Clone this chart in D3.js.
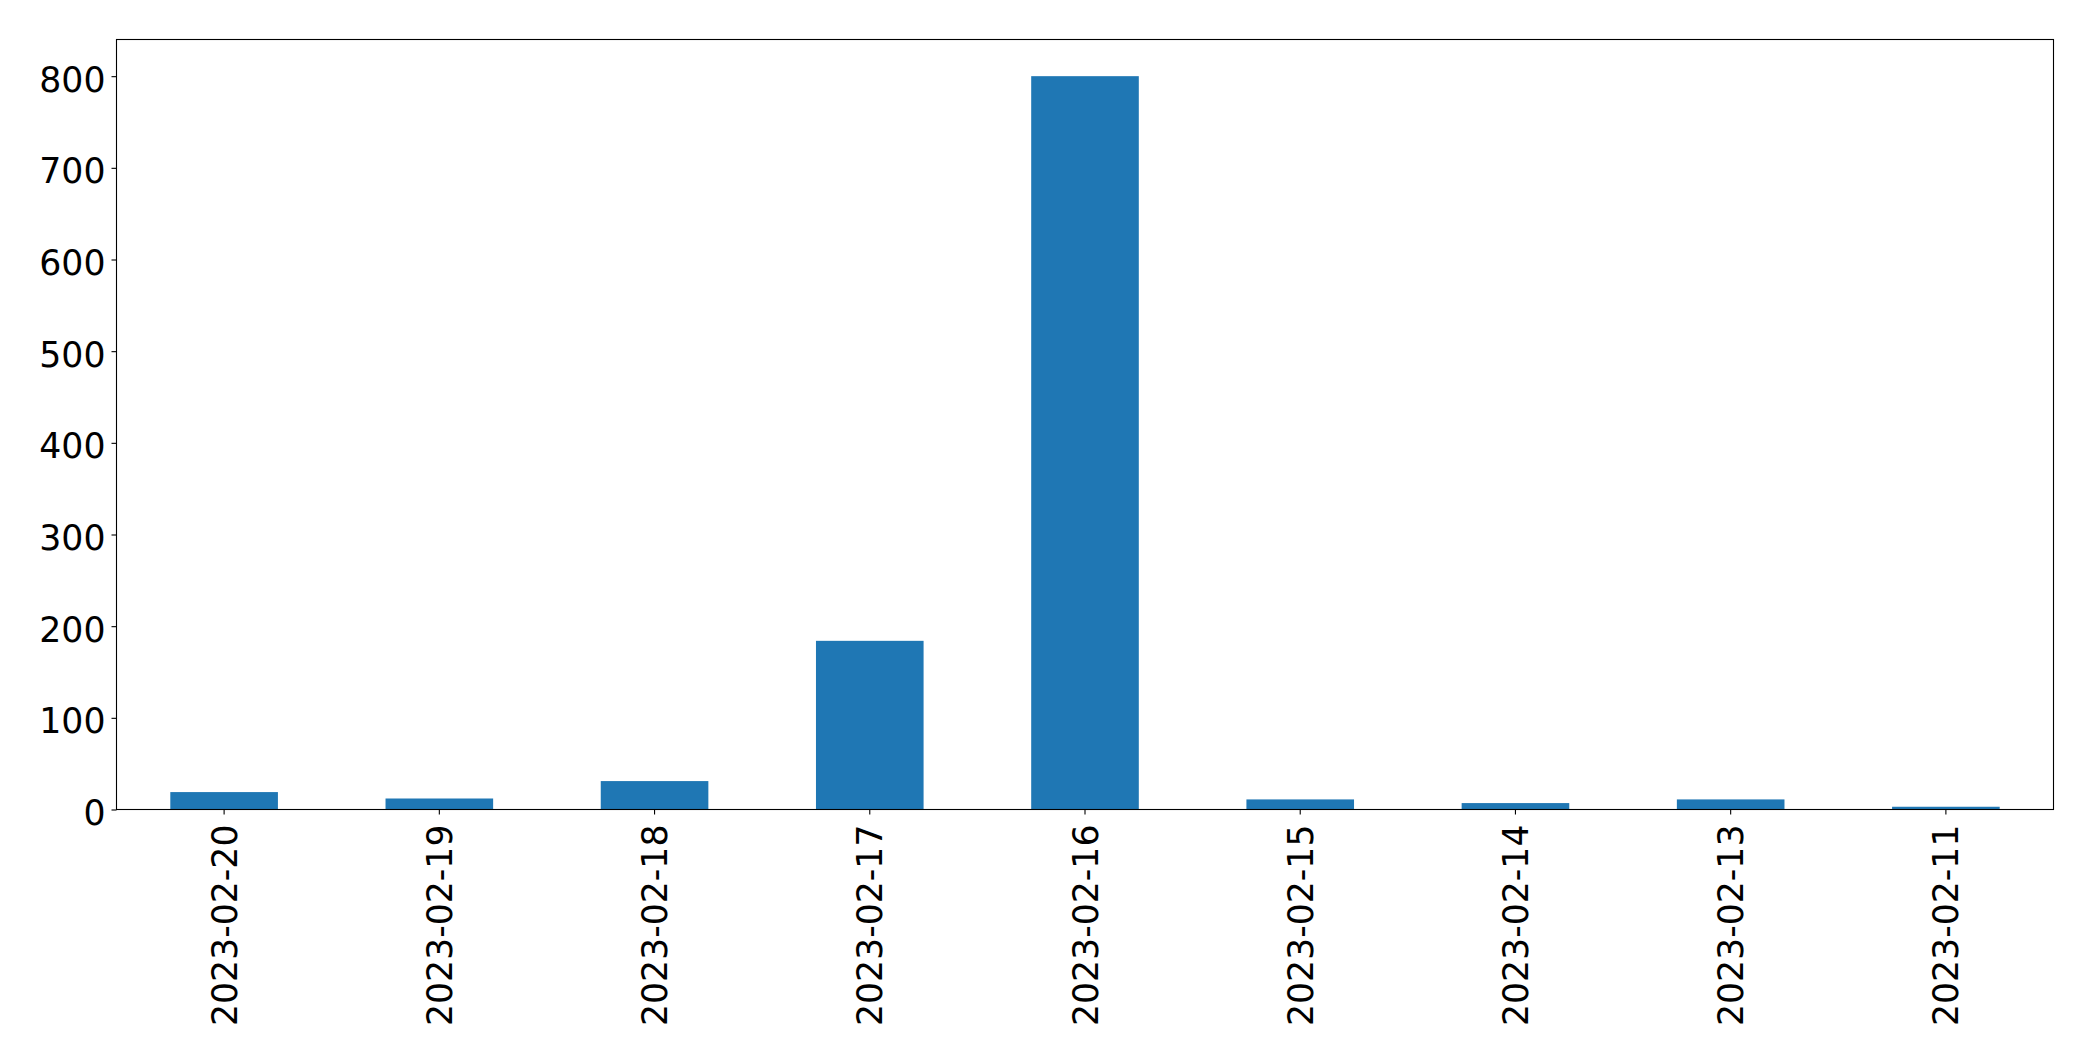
<!DOCTYPE html>
<html>
<head>
<meta charset="utf-8">
<script src="https://cdn.jsdelivr.net/npm/d3@7"></script>
<style>
  html, body { margin: 0; padding: 0; background: #fff; }
  svg { display: block; }
</style>
</head>
<body>
<svg id="chart" width="2093" height="1061"></svg>
<script>
const categories = ["2023-02-20", "2023-02-19", "2023-02-18", "2023-02-17", "2023-02-16", "2023-02-15", "2023-02-14", "2023-02-13", "2023-02-11"];
const values = [19, 12, 31, 184, 800, 11, 7, 11, 3];
const yTicks = [0, 100, 200, 300, 400, 500, 600, 700, 800];

const W = 2093, H = 1061;
const margin = { left: 116.5, right: W - 2053.5, top: 39.5, bottom: H - 809.5 };
const svg = d3.select("#chart");
const font = "'DejaVu Sans', sans-serif";
const fontSize = 34.7;

const x = d3.scaleBand()
  .domain(categories)
  .range([margin.left, W - margin.right])
  .paddingInner(0.5)
  .paddingOuter(0.25);

const yMax = d3.max(values) * 1.05;
const y = d3.scaleLinear()
  .domain([0, yMax])
  .range([H - margin.bottom, margin.top]);

// bars
svg.append("g").selectAll("rect")
  .data(values)
  .join("rect")
  .attr("x", (d, i) => x(categories[i]))
  .attr("width", x.bandwidth())
  .attr("y", d => y(d))
  .attr("height", d => y(0) - y(d))
  .attr("fill", "#1f77b4");

// y axis
const yAxis = svg.append("g")
  .attr("transform", `translate(${margin.left},0)`)
  .call(d3.axisLeft(y).tickValues(yTicks).tickSize(5).tickPadding(6).tickFormat(d3.format("d")));
yAxis.select(".domain").remove();
yAxis.selectAll("text")
  .attr("font-family", font).attr("font-size", fontSize).attr("fill", "#000")
  .attr("dy", "0.43em");
yAxis.selectAll("line").attr("stroke", "#000").attr("stroke-width", 1.1);

// x axis
const xAxis = svg.append("g")
  .attr("transform", `translate(0,${H - margin.bottom})`)
  .call(d3.axisBottom(x).tickSize(5).tickPadding(5));
xAxis.select(".domain").remove();
xAxis.selectAll("line").attr("stroke", "#000").attr("stroke-width", 1.1);
xAxis.selectAll("text")
  .attr("font-family", font).attr("font-size", fontSize).attr("fill", "#000")
  .attr("text-anchor", "end")
  .attr("transform", "rotate(-90)")
  .attr("x", -15)
  .attr("y", 0)
  .attr("dy", "0.36em");

// frame
svg.append("rect")
  .attr("x", margin.left)
  .attr("y", margin.top)
  .attr("width", W - margin.left - margin.right)
  .attr("height", H - margin.top - margin.bottom)
  .attr("fill", "none")
  .attr("stroke", "#000")
  .attr("stroke-width", 1.1);
</script>
</body>
</html>
